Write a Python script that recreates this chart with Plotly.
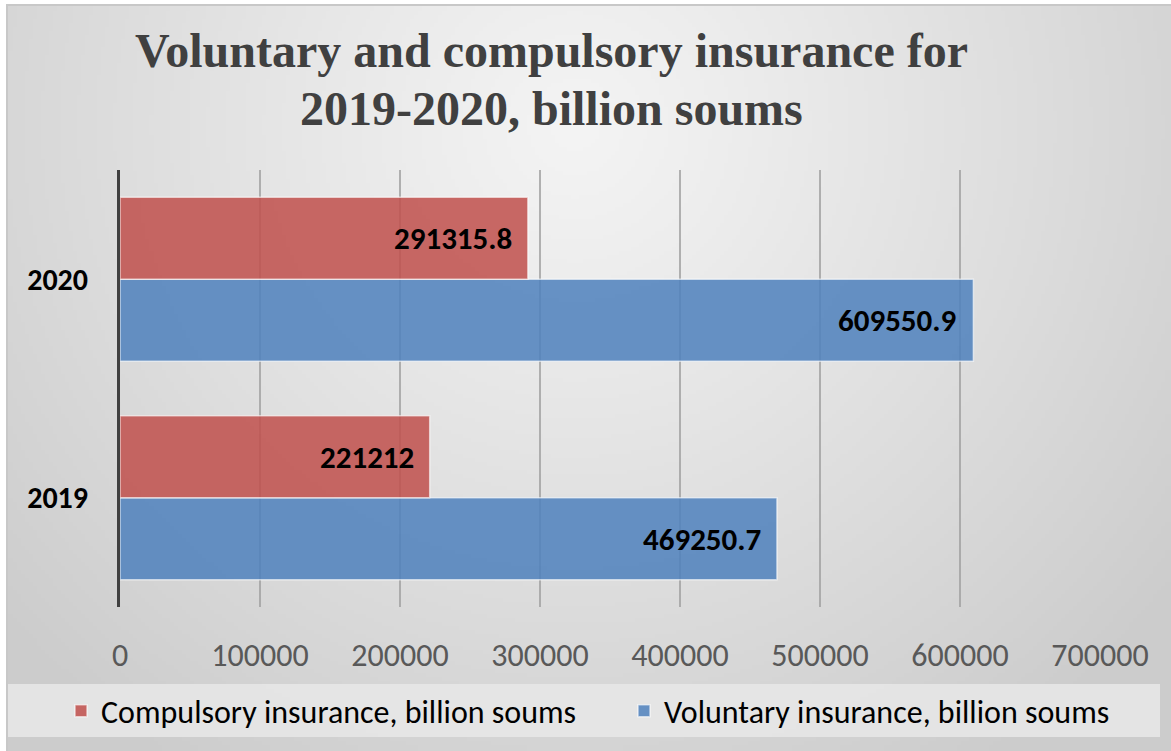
import base64
import struct
import zlib

import numpy as np
import plotly.graph_objects as go

# ---- data -------------------------------------------------------------
years = ["2019", "2020"]
voluntary = [469250.7, 609550.9]
compulsory = [221212, 291315.8]
voluntary_labels = ["469250.7", "609550.9"]
compulsory_labels = ["221212", "291315.8"]
x_ticks = [0, 100000, 200000, 300000, 400000, 500000, 600000, 700000]
title_lines = ["Voluntary and compulsory insurance for", "2019-2020, billion soums"]

# ---- layout constants -------------------------------------------------
W, H = 1171, 751
M_L, M_R, M_T, M_B = 120, 71, 170, 144
PW, PH = W - M_L - M_R, H - M_T - M_B
BARGAP = 0.25

RED = "rgba(192,80,77,0.86)"
BLUE = "rgba(79,129,189,0.86)"
SANS = "Carlito, Lato, sans-serif"
SERIF = "Liberation Serif, Times New Roman, serif"


def px_to_paper_x(px):
    return (px - M_L) / PW


def px_to_paper_y(py):
    return (H - M_B - py) / PH


def gradient_png():
    """Soft radial grey background as an inline PNG."""
    w, h = 290, 187
    yy, xx = np.mgrid[0:h, 0:w]
    sx, sy = W / w, H / h
    d = np.sqrt(((xx * sx - 570) / 700.0) ** 2 + ((yy * sy - 120) / 700.0) ** 2)
    v = 244 - 36 * np.clip(d, 0, 1.1) ** 1.1
    img = np.clip(v, 0, 255).astype(np.uint8)
    rgb = np.stack([img, img, img], axis=-1)
    raw = b"".join(b"\x00" + rgb[r].tobytes() for r in range(h))

    def chunk(tag, data):
        c = struct.pack(">I", len(data)) + tag + data
        return c + struct.pack(">I", zlib.crc32(tag + data) & 0xFFFFFFFF)

    png = b"\x89PNG\r\n\x1a\n"
    png += chunk(b"IHDR", struct.pack(">IIBBBBB", w, h, 8, 2, 0, 0, 0))
    png += chunk(b"IDAT", zlib.compress(raw, 9))
    png += chunk(b"IEND", b"")
    return "data:image/png;base64," + base64.b64encode(png).decode()


fig = go.Figure()
fig.add_trace(go.Bar(
    y=years, x=voluntary, orientation="h",
    name="Voluntary insurance, billion soums", legend="legend2", showlegend=True,
    marker=dict(color=BLUE, line=dict(color="rgba(255,255,255,0.6)", width=1.5)),
))
fig.add_trace(go.Bar(
    y=years, x=compulsory, orientation="h",
    name="Compulsory insurance, billion soums", legend="legend", showlegend=True,
    marker=dict(color=RED, line=dict(color="rgba(255,255,255,0.6)", width=1.5)),
))

# value labels at the right end of each bar
half = (1 - BARGAP) / 4
for i, yr in enumerate(years):
    for val, lab, off in ((voluntary[i], voluntary_labels[i], -half),
                          (compulsory[i], compulsory_labels[i], half)):
        fig.add_annotation(
            x=val, y=i + off, text=lab, showarrow=False,
            xanchor="right", yanchor="middle", xshift=-14,
            font=dict(family=SANS, size=31, color="black", weight="bold"),
        )

# two-line title
for k, (line, base_y) in enumerate(zip(title_lines, (68, 126))):
    fig.add_annotation(
        text=line, showarrow=False, xref="paper", yref="paper",
        x=px_to_paper_x(551), xanchor="center",
        y=px_to_paper_y(base_y + 11), yanchor="bottom",
        font=dict(family=SERIF, size=48, color="#404040", weight="bold"),
    )

# background + frame
fig.add_layout_image(
    source=gradient_png(), xref="paper", yref="paper",
    x=px_to_paper_x(7), y=px_to_paper_y(5),
    sizex=(W - 7) / PW, sizey=(H - 5) / PH,
    xanchor="left", yanchor="top", sizing="stretch", layer="below",
)
fig.add_shape(
    type="rect", xref="paper", yref="paper", layer="below",
    x0=px_to_paper_x(7), x1=px_to_paper_x(W + 2),
    y0=px_to_paper_y(H + 2), y1=px_to_paper_y(5),
    line=dict(color="#c8c8c8", width=2), fillcolor="rgba(0,0,0,0)",
)
# legend band
fig.add_shape(
    type="rect", xref="paper", yref="paper", layer="below",
    x0=px_to_paper_x(8), x1=px_to_paper_x(1160),
    y0=px_to_paper_y(737), y1=px_to_paper_y(684),
    line=dict(width=0), fillcolor="rgba(232,232,232,0.85)",
)

legend_common = dict(
    orientation="h", xref="container", yref="paper",
    xanchor="left", y=px_to_paper_y(711), yanchor="middle",
    bgcolor="rgba(0,0,0,0)", visible=True,
    font=dict(family=SANS, size=32, color="black"),
)

fig.update_layout(
    width=W, height=H,
    margin=dict(l=M_L, r=M_R, t=M_T, b=M_B, autoexpand=False),
    paper_bgcolor="white", plot_bgcolor="rgba(0,0,0,0)",
    barmode="group", bargap=BARGAP, bargroupgap=0,
    showlegend=True,
    legend=dict(x=61 / W, **legend_common),
    legend2=dict(x=624 / W, **legend_common),
    xaxis=dict(
        range=[0, 700000], tickvals=x_ticks, ticktext=[str(t) for t in x_ticks],
        showgrid=True, gridcolor="rgba(160,160,160,0.8)", gridwidth=1.6,
        zeroline=False, showline=False, ticks="",
        tickfont=dict(family=SANS, size=32, color="#595959"),
        ticklabelstandoff=26,
    ),
    yaxis=dict(
        type="category", categoryorder="array", categoryarray=years,
        range=[-0.5, 1.5], showgrid=False, zeroline=False,
        showline=True, linecolor="#404040", linewidth=3, ticks="",
        tickfont=dict(family=SANS, size=30, color="black", weight="bold"),
        ticklabelstandoff=23,
    ),
)

fig.write_html("out.html")
